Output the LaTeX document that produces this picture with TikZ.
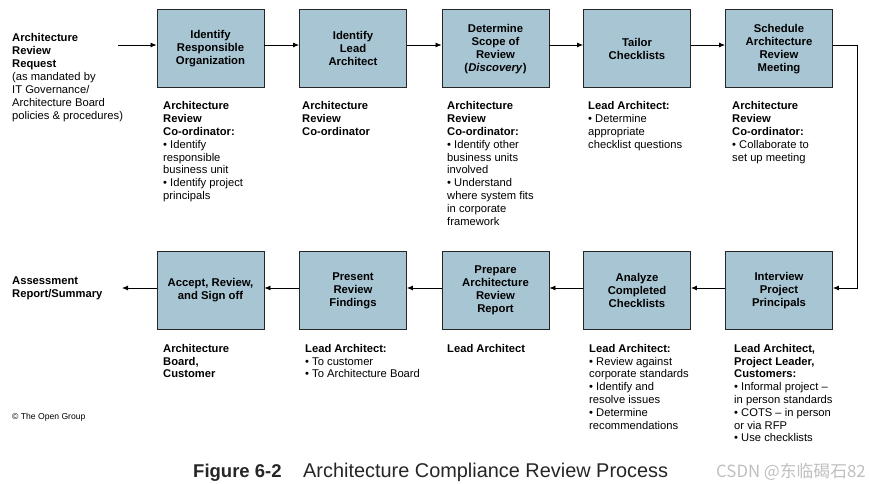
\documentclass[tikz,border=0pt]{standalone}
\usepackage{fontspec}
\setmainfont{Liberation Sans}
\newfontfamily\cjk{Noto Sans CJK SC}
\usetikzlibrary{arrows.meta}
\definecolor{boxblue}{RGB}{168,197,211}
\begin{document}
\begin{tikzpicture}[x=1pt,y=-1pt,
  procbox/.style={draw=black!85, line width=0.9pt, fill=boxblue, minimum width=107pt,
    minimum height=78pt, inner sep=2pt, align=center,
    font=\fontsize{11.3}{12.9}\selectfont\bfseries},
  note/.style={anchor=north west, inner sep=0pt, align=left,
    font=\fontsize{11.2}{12.8}\selectfont},
  arr/.style={-{Latex[length=6pt,width=5pt]}, line width=0.8pt}]
\useasboundingbox (0,0) rectangle (869,483);

% top row
\node[procbox] (b1) at (210.5,48.75) {Identify\\Responsible\\Organization};
\node[procbox] (b2) at (353,48.75) {Identify\\Lead\\Architect};
\node[procbox] (b3) at (495.5,48.75) {Determine\\Scope of\\Review\\(\textit{Discovery})};
\node[procbox] (b4) at (637,48.75) {Tailor\\Checklists};
\node[procbox] (b5) at (779,48.75) {Schedule\\Architecture\\Review\\Meeting};
% bottom row
\node[procbox] (b6) at (210.5,290.5) {Accept, Review,\\and Sign off};
\node[procbox] (b7) at (353,290.5) {Present\\Review\\Findings};
\node[procbox] (b8) at (495.5,290.5) {Prepare\\Architecture\\Review\\Report};
\node[procbox] (b9) at (637,290.5) {Analyze\\Completed\\Checklists};
\node[procbox] (b10) at (779,290.5) {Interview\\Project\\Principals};

% side texts
\node[note, font=\fontsize{11.2}{13}\selectfont] (req) at (12,33) {\textbf{Architecture}\\\textbf{Review}\\\textbf{Request}\\(as mandated by\\IT Governance/\\Architecture Board\\policies \& procedures)};
\node[note] (out) at (12,276.5) {\textbf{Assessment}\\\textbf{Report/Summary}};
\coordinate (inA) at (118,45);
\coordinate (outA) at (122,288);

% notes under top row
\node[note] (n1) at (163,101.5) {\textbf{Architecture}\\\textbf{Review}\\\textbf{Co-ordinator:}\\• Identify\\responsible\\business unit\\• Identify project\\principals};
\node[note] (n2) at (302,101.5) {\textbf{Architecture}\\\textbf{Review}\\\textbf{Co-ordinator}};
\node[note] (n3) at (447,101.5) {\textbf{Architecture}\\\textbf{Review}\\\textbf{Co-ordinator:}\\• Identify other\\business units\\involved\\• Understand\\where system fits\\in corporate\\framework};
\node[note] (n4) at (588,101.5) {\textbf{Lead Architect:}\\• Determine\\appropriate\\checklist questions};
\node[note] (n5) at (732,101.5) {\textbf{Architecture}\\\textbf{Review}\\\textbf{Co-ordinator:}\\• Collaborate to\\set up meeting};

% notes under bottom row
\node[note] (n6) at (163,344) {\textbf{Architecture}\\\textbf{Board,}\\\textbf{Customer}};
\node[note] (n7) at (305,344) {\textbf{Lead Architect:}\\• To customer\\• To Architecture Board};
\node[note] (n8) at (447,344) {\textbf{Lead Architect}};
\node[note] (n9) at (589,344) {\textbf{Lead Architect:}\\• Review against\\corporate standards\\• Identify and\\resolve issues\\• Determine\\recommendations};
\node[note] (n10) at (734,344) {\textbf{Lead Architect,}\\\textbf{Project Leader,}\\\textbf{Customers:}\\• Informal project –\\in person standards\\• COTS – in person\\or via RFP\\• Use checklists};

% connectors
\draw[arr] (inA) -- ([yshift=3.75pt]b1.west);
\draw[arr] ([yshift=3.75pt]b1.east) -- ([yshift=3.75pt]b2.west);
\draw[arr] ([yshift=3.75pt]b2.east) -- ([yshift=3.75pt]b3.west);
\draw[arr] ([yshift=3.75pt]b3.east) -- ([yshift=3.75pt]b4.west);
\draw[arr] ([yshift=3.75pt]b4.east) -- ([yshift=3.75pt]b5.west);
\draw[arr] ([yshift=3.75pt]b5.east) -- ++(24,0) |- ([yshift=2.5pt]b10.east);
\draw[arr] ([yshift=2.5pt]b10.west) -- ([yshift=2.5pt]b9.east);
\draw[arr] ([yshift=2.5pt]b9.west) -- ([yshift=2.5pt]b8.east);
\draw[arr] ([yshift=2.5pt]b8.west) -- ([yshift=2.5pt]b7.east);
\draw[arr] ([yshift=2.5pt]b7.west) -- ([yshift=2.5pt]b6.east);
\draw[arr] ([yshift=2.5pt]b6.west) -- (outA);

% footer
\node[anchor=west, inner sep=0pt, font=\fontsize{8.6}{10}\selectfont] (copy) at (12,417) {© The Open Group};
\node[anchor=base west, inner sep=0pt, font=\fontsize{18.5}{22}\selectfont\bfseries, text=black!85] (fig) at (193,477) {Figure 6-2};
\node[anchor=base west, inner sep=0pt, font=\fontsize{19.9}{22}\selectfont, text=black!85] (title) at (303,477) {Architecture Compliance Review Process};
\node[anchor=base west, inner sep=0pt, font=\cjk\fontsize{16.8}{18}\selectfont, text=black!25] (wm) at (716,477) {CSDN @东临碣石82};
\end{tikzpicture}
\end{document}
